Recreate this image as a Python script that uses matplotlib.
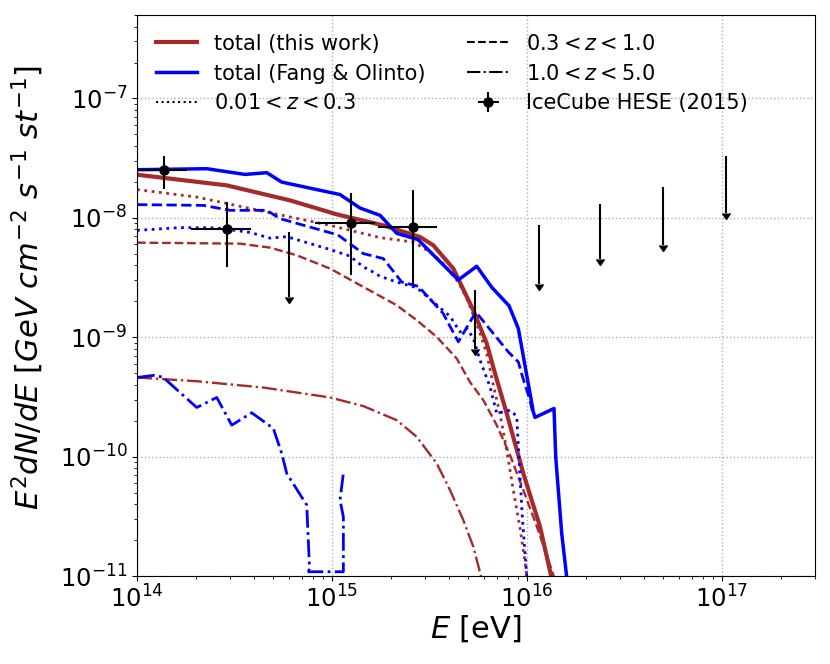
import numpy as np
import matplotlib
matplotlib.use('Agg')
import matplotlib.pyplot as plt
from matplotlib.markers import CARETDOWNBASE
from matplotlib.ticker import NullFormatter

# ---- this work (brown) ----
E_tot = [1.0e14, 2.884e14, 6.09e14, 1.057e15, 1.833e15, 2.827e15, 3.307e15, 4.188e15,
         5.304e15, 6.215e15, 6.855e15, 7.868e15, 9.572e15, 1.166e16, 1.343e16]
F_tot = [2.298e-8, 1.871e-8, 1.401e-8, 1.070e-8, 8.65e-9, 6.91e-9, 5.89e-9, 3.76e-9,
         1.682e-9, 8.86e-10, 4.97e-10, 2.30e-10, 7.23e-11, 2.59e-11, 9.3e-12]

E_z1 = [1.0e14, 2.024e14, 4.626e14, 9.766e14, 1.763e15, 2.612e15, 3.181e15, 3.722e15,
        4.442e15, 4.908e15, 5.521e15, 6.215e15, 6.719e15, 7.271e15, 7.868e15, 8.505e15,
        9.207e15, 1.0e16, 1.024e16]
F_z1 = [1.725e-8, 1.493e-8, 1.118e-8, 8.65e-9, 6.83e-9, 6.27e-9, 5.17e-9, 4.14e-9,
        2.90e-9, 2.11e-9, 1.302e-9, 7.31e-10, 3.96e-10, 2.27e-10, 1.134e-10, 5.24e-11,
        2.52e-11, 1.0e-11, 7.6e-12]

E_z2 = [1.0e14, 3.375e14, 4.81e14, 6.592e14, 9.766e14, 1.447e15, 2.147e15, 2.72e15,
        3.443e15, 4.36e15, 5.103e15, 5.97e15, 6.993e15, 8.18e15, 9.572e15, 1.121e16,
        1.312e16, 1.392e16]
F_z2 = [6.20e-9, 6.08e-9, 5.63e-9, 4.86e-9, 3.76e-9, 2.64e-9, 1.853e-9, 1.388e-9,
        1.006e-9, 6.63e-10, 4.20e-10, 2.97e-10, 1.835e-10, 1.03e-10, 5.24e-11, 2.62e-11,
        1.236e-11, 9.26e-12]

E_z3 = [1.0e14, 2.024e14, 4.443e14, 9.766e14, 1.447e15, 2.147e15, 2.72e15, 3.443e15,
        4.029e15, 4.713e15, 5.304e15, 5.877e15]
F_z3 = [4.60e-10, 4.28e-10, 3.79e-10, 3.13e-10, 2.65e-10, 2.02e-10, 1.464e-10, 8.77e-11,
        5.24e-11, 2.94e-11, 1.758e-11, 9.26e-12]

# ---- Fang & Olinto (blue) ----
E_fo = [1.0e14, 2.277e14, 3.58e14, 4.626e14, 5.521e14, 1.099e15, 1.392e15, 1.763e15,
        2.147e15, 2.761e15, 4.442e15, 5.521e15, 6.592e15, 8.087e15, 9.025e15, 1.036e16,
        1.077e16, 1.099e16, 1.375e16, 1.404e16, 1.506e16, 1.604e16]
F_fo = [2.53e-8, 2.58e-8, 2.31e-8, 2.39e-8, 1.993e-8, 1.567e-8, 1.208e-8, 1.05e-8,
        7.42e-9, 6.57e-9, 3.02e-9, 3.93e-9, 2.62e-9, 1.835e-9, 1.182e-9, 3.38e-10,
        2.37e-10, 2.13e-10, 2.53e-10, 9.81e-11, 2.28e-11, 9.26e-12]

E_fo1 = [1.0e14, 1.662e14, 2.512e14, 3.797e14, 4.81e14, 5.858e14, 9.766e14, 1.237e15,
         1.447e15, 1.566e15, 1.763e15, 2.147e15, 2.72e15, 3.58e15, 4.029e15, 4.532e15,
         4.908e15, 5.304e15, 5.741e15, 6.462e15, 6.993e15, 8.18e15, 8.857e15, 9.1e15,
         9.483e15, 1.0e16]
F_fo1 = [7.86e-9, 8.28e-9, 8.25e-9, 7.56e-9, 6.76e-9, 6.96e-9, 5.43e-9, 4.78e-9,
         3.88e-9, 3.64e-9, 3.24e-9, 2.90e-9, 2.60e-9, 1.765e-9, 1.499e-9, 1.108e-9,
         1.19e-9, 9.81e-10, 6.42e-10, 3.84e-10, 2.30e-10, 2.45e-10, 2.18e-10, 9.35e-11,
         2.94e-11, 9.26e-12]

E_fo2 = [1.0e14, 2.188e14, 2.999e14, 4.626e14, 5.412e14, 1.073e15, 1.447e15, 1.833e15,
         2.278e15, 2.771e15, 3.709e15, 4.442e15, 5.463e15, 6.719e15, 8.02e15, 9.025e15,
         9.428e15, 1.036e16, 1.073e16]
F_fo2 = [1.29e-8, 1.272e-8, 1.156e-8, 1.156e-8, 9.85e-9, 7.19e-9, 5.02e-9, 4.56e-9,
         2.90e-9, 2.67e-9, 1.588e-9, 9.14e-10, 1.628e-9, 1.074e-9, 7.53e-10, 6.21e-10,
         4.81e-10, 2.97e-10, 2.27e-10]

E_fo3 = [1.0e14, 1.237e14, 1.364e14, 2.024e14, 2.563e14, 3.06e14, 3.874e14, 5.0e14,
         5.521e14, 5.858e14, 7.419e14, 7.667e14, 7.577e14, 1.143e15, 1.143e15, 1.099e15,
         1.143e15]
F_fo3 = [4.60e-10, 4.81e-10, 4.60e-10, 2.58e-10, 3.13e-10, 1.835e-10, 2.33e-10, 1.722e-10,
         1.063e-10, 7.23e-11, 3.93e-11, 1.166e-11, 1.086e-11, 1.086e-11, 3.13e-11, 4.33e-11,
         7.23e-11]

# ---- IceCube HESE (2015) ----
ice_E = [1.374e14, 2.884e14, 1.25e15, 2.61e15]
ice_Elo = [9.08e13, 1.892e14, 8.18e14, 1.726e15]
ice_Ehi = [1.80e14, 3.83e14, 1.66e15, 3.467e15]
ice_F = [2.53e-8, 8.13e-9, 9.06e-9, 8.37e-9]
ice_Flo = [1.75e-8, 3.87e-9, 3.3e-9, 2.81e-9]
ice_Fhi = [3.27e-8, 1.355e-8, 1.63e-8, 1.72e-8]

ul_E = [6.01e14, 5.41e15, 1.148e16, 2.368e16, 5.0e16, 1.045e17]
ul_F = [7.60e-9, 2.47e-9, 8.65e-9, 1.297e-8, 1.81e-8, 3.27e-8]
ul_end = [2.16e-9, 7.94e-10, 2.78e-9, 4.49e-9, 5.89e-9, 1.09e-8]

brown = '#a52a2a'
blue = '#0000ff'

fig = plt.figure(figsize=(8.3, 6.64), dpi=100)
ax = fig.add_axes([0.1651, 0.1325, 0.8169, 0.8449])

ax.plot(E_tot, F_tot, color=brown, lw=3)
ax.plot(E_z1, F_z1, color=brown, lw=2, ls=':')
ax.plot(E_z2, F_z2, color=brown, lw=1.7, ls='--')
ax.plot(E_z3, F_z3, color=brown, lw=1.7, ls='-.')

ax.plot(E_fo, F_fo, color=blue, lw=2.5)
ax.plot(E_fo1, F_fo1, color=blue, lw=2, ls=':')
ax.plot(E_fo2, F_fo2, color=blue, lw=2, ls='--')
ax.plot(E_fo3, F_fo3, color=blue, lw=2, ls='-.')

ice_E = np.array(ice_E)
ice_F = np.array(ice_F)
xerr = [ice_E - np.array(ice_Elo), np.array(ice_Ehi) - ice_E]
yerr = [ice_F - np.array(ice_Flo), np.array(ice_Fhi) - ice_F]
ice = ax.errorbar(ice_E, ice_F, xerr=xerr, yerr=yerr, fmt='o', color='k',
                  ms=6.5, elinewidth=1.5, capsize=0, zorder=5)

ul_F = np.array(ul_F)
ax.errorbar(ul_E, ul_F, yerr=[ul_F - np.array(ul_end), np.zeros(len(ul_F))],
            fmt='none', ecolor='k', elinewidth=1.5, capsize=0, zorder=5)
ax.plot(ul_E, ul_end, ls='none', marker=CARETDOWNBASE, ms=6, color='k', zorder=5)

ax.set_xscale('log')
ax.set_yscale('log')
ax.set_xlim(1e14, 3e17)
ax.set_ylim(1e-11, 5e-7)
ax.xaxis.set_minor_formatter(NullFormatter())
ax.yaxis.set_minor_formatter(NullFormatter())
ax.grid(True, which='major', ls=':', color='#b0b0b0', lw=1)
ax.tick_params(labelsize=17.5)
ax.tick_params(which='both', right=False, top=False)

ax.set_xlabel(r'$E$ [eV]', fontsize=22, labelpad=0)
ax.set_ylabel(r'$E^2dN/dE\ [GeV\ cm^{-2}\ s^{-1}\ st^{-1}]$', fontsize=22)
ax.yaxis.set_label_coords(-0.134, 0.514)

# legend
h1, = ax.plot([], [], color=brown, lw=3)
h2, = ax.plot([], [], color=blue, lw=2.5)
h3, = ax.plot([], [], color='k', lw=1.5, ls=':')
h4, = ax.plot([], [], color='k', lw=1.5, ls='--')
h5, = ax.plot([], [], color='k', lw=1.5, ls='-.')
ax.legend([h1, h2, h3, h4, h5, ice],
          ['total (this work)', 'total (Fang & Olinto)', r'$0.01 < z < 0.3$',
           r'$0.3 < z < 1.0$', r'$1.0 < z < 5.0$', 'IceCube HESE (2015)'],
          loc='upper left', ncol=2, frameon=False, fontsize=15,
          labelspacing=0.47, numpoints=1)

fig.savefig('out.png', dpi=100)
